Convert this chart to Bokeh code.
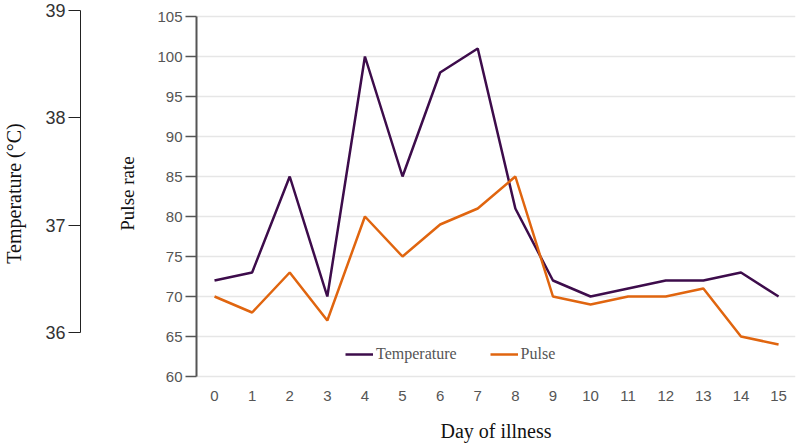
from bokeh.plotting import figure
from bokeh.models import (ColumnDataSource, LinearAxis, Range1d, FixedTicker,
                          Legend, LegendItem)
from bokeh.embed import file_html
from bokeh.resources import INLINE

days = list(range(16))
pulse = [70, 68, 73, 67, 80, 75, 79, 81, 85, 70, 69, 70, 70, 71, 65, 64]
# the temperature line is drawn against the pulse-rate scale in the original
temperature = [72, 73, 85, 70, 100, 85, 98, 101, 81, 72, 70, 71, 72, 72, 73, 70]
pulse_ticks = list(range(60, 106, 5))
temp_ticks = [36, 37, 38, 39]

TEMP_COLOR = "#3d0c4b"
PULSE_COLOR = "#e0650f"
SERIF = "Liberation Serif"
SANS = "Liberation Sans"

src = ColumnDataSource(data=dict(day=days, pulse=pulse, temperature=temperature))

p = figure(width=797, height=445, output_backend="svg", toolbar_location=None,
           title=None, x_range=Range1d(-0.479, 15.45),
           y_range=Range1d(59.75, 106),
           min_border_left=196, min_border_right=2, min_border_top=8,
           min_border_bottom=67)
p.outline_line_color = None
p.extra_y_ranges = {"temp": Range1d(35.5714, 39.0186)}

# lines
r_temp = p.line("day", "temperature", source=src, color=TEMP_COLOR, line_width=2.5)
r_pulse = p.line("day", "pulse", source=src, color=PULSE_COLOR, line_width=2.5)

# grid
p.xgrid.visible = False
p.ygrid.grid_line_color = "#e6e6e6"
p.ygrid.grid_line_width = 1.5

# x axis
xa = p.xaxis[0]
xa.ticker = FixedTicker(ticks=days)
xa.axis_line_color = None
xa.major_tick_line_color = None
xa.minor_tick_line_color = None
xa.major_tick_out = 0
xa.major_tick_in = 0
xa.major_label_standoff = 12
xa.major_label_text_font = SANS
xa.major_label_text_font_size = "15px"
xa.major_label_text_color = "#555555"
xa.axis_label = "Day of illness"
xa.axis_label_text_font = SERIF
xa.axis_label_text_font_size = "20px"
xa.axis_label_text_font_style = "normal"
xa.axis_label_text_color = "#111111"
xa.axis_label_standoff = 16

# pulse axis
ya = p.yaxis[0]
ya.ticker = FixedTicker(ticks=pulse_ticks)
ya.bounds = (60, 105)
ya.axis_line_color = "#555555"
ya.axis_line_width = 2
ya.major_tick_line_color = "#555555"
ya.major_tick_line_width = 1.5
ya.major_tick_out = 11
ya.major_tick_in = 0
ya.minor_tick_line_color = None
ya.major_label_standoff = 3
ya.major_label_text_font = SANS
ya.major_label_text_font_size = "15px"
ya.major_label_text_color = "#555555"
ya.axis_label = "Pulse rate"
ya.axis_label_text_font = SERIF
ya.axis_label_text_font_size = "19px"
ya.axis_label_text_font_style = "normal"
ya.axis_label_text_color = "#111111"
ya.axis_label_standoff = 16

# invisible axis used as a gap between the two left axes
gap = LinearAxis(y_range_name="temp", ticker=FixedTicker(ticks=[37]),
                 axis_line_color=None, major_tick_line_color=None,
                 minor_tick_line_color=None, major_tick_out=34, major_tick_in=0,
                 major_label_standoff=0, major_label_text_font_size="1px",
                 major_label_text_alpha=0)
p.add_layout(gap, "left")

# temperature axis
ta = LinearAxis(y_range_name="temp", ticker=FixedTicker(ticks=temp_ticks),
                bounds=(36, 39))
ta.axis_line_color = "#222222"
ta.axis_line_width = 1
ta.major_tick_line_color = "#222222"
ta.major_tick_out = 12
ta.major_tick_in = 0
ta.minor_tick_line_color = None
ta.major_label_standoff = 3
ta.major_label_text_font = SANS
ta.major_label_text_font_size = "18px"
ta.major_label_text_color = "#333333"
ta.axis_label = "Temperature (°C)"
ta.axis_label_text_font = SERIF
ta.axis_label_text_font_size = "20px"
ta.axis_label_text_font_style = "normal"
ta.axis_label_text_color = "#111111"
ta.axis_label_standoff = 17
p.add_layout(ta, "left")

legend = Legend(items=[LegendItem(label="Temperature", renderers=[r_temp]),
                       LegendItem(label="Pulse", renderers=[r_pulse])],
                orientation="horizontal", location=(149, 14),
                border_line_color=None, background_fill_alpha=0,
                padding=0, margin=0, spacing=33, glyph_width=28,
                label_standoff=3, label_text_font=SERIF,
                label_text_font_size="16px", label_text_color="#555555")
p.add_layout(legend)

open("out.html", "w").write(file_html(p, INLINE))
